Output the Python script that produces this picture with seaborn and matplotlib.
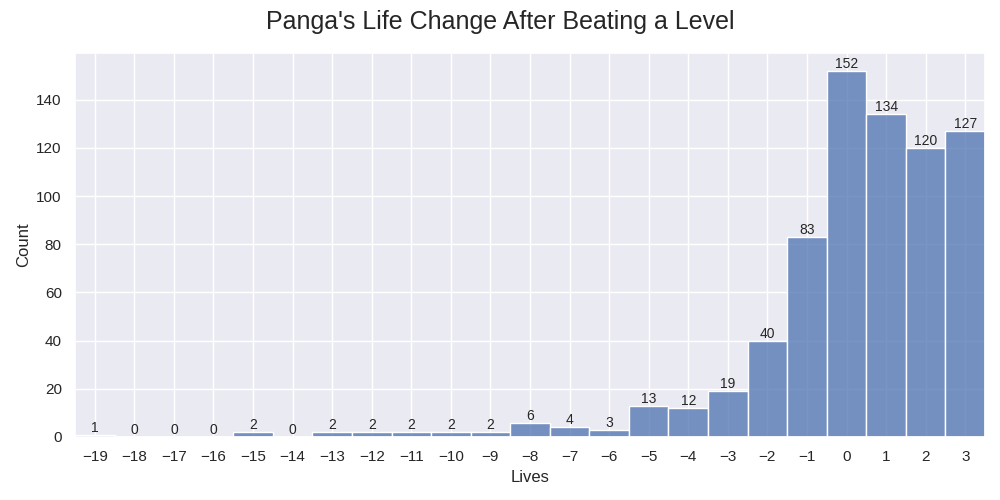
import matplotlib
matplotlib.use("Agg")
import matplotlib.pyplot as plt
import seaborn as sns
import numpy as np

lives = [-19, -18, -17, -16, -15, -14, -13, -12, -11, -10, -9, -8, -7, -6, -5, -4, -3, -2, -1, 0, 1, 2, 3]
counts = [1, 0, 0, 0, 2, 0, 2, 2, 2, 2, 2, 6, 4, 3, 13, 12, 19, 40, 83, 152, 134, 120, 127]

sns.set_theme(style="darkgrid")
plt.rcParams['font.family'] = ['Liberation Sans', 'DejaVu Sans']

fig, ax = plt.subplots(figsize=(10, 5), dpi=100)
sns.histplot(x=lives, weights=counts, discrete=True, ax=ax)
ax.bar_label(ax.containers[0], fontsize=10)
ax.set_xticks(lives)
ax.set_xlim(min(lives) - 0.5, max(lives) + 0.5)
ax.set_xlabel("Lives")
ax.set_ylabel("Count")
fig.suptitle("Panga's Life Change After Beating a Level", fontsize=18)
fig.subplots_adjust(left=0.075, right=0.985, top=0.895, bottom=0.126)
fig.savefig("out.png", dpi=100)
